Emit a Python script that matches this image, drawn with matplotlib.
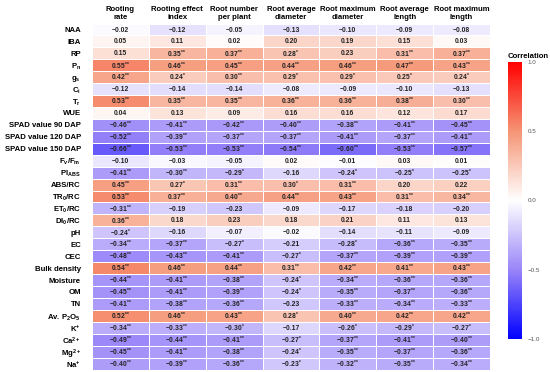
import numpy as np
import matplotlib
matplotlib.use("Agg")
import matplotlib.pyplot as plt
from matplotlib.colors import LinearSegmentedColormap

plt.rcParams['font.family'] = ['Liberation Sans', 'DejaVu Sans']
plt.rcParams['font.weight'] = 'bold'
plt.rcParams['mathtext.fontset'] = 'custom'
plt.rcParams['mathtext.rm'] = 'Liberation Sans:bold'
plt.rcParams['mathtext.it'] = 'Liberation Sans:bold'
plt.rcParams['mathtext.bf'] = 'Liberation Sans:bold'

columns = ["Rooting\nrate", "Rooting effect\nindex", "Root number\nper plant",
           "Root average\ndiameter", "Root maximum\ndiameter", "Root average\nlength",
           "Root maximum\nlength"]

rows = ["NAA", "IBA", "RP", "P$_n$", "g$_s$", "C$_i$", "T$_r$", "WUE",
        "SPAD value 90 DAP", "SPAD value 120 DAP", "SPAD value 150 DAP",
        "F$_v$/F$_m$", "PI$_{ABS}$", "ABS/RC", "TR$_0$/RC", "ET$_0$/RC", "DI$_0$/RC",
        "pH", "EC", "CEC", "Bulk density", "Moisture", "OM", "TN", "Av. P$_2$O$_5$",
        "K$^{+}$", "Ca$^{2+}$", "Mg$^{2+}$", "Na$^{+}$"]

values = [
    [-0.02, -0.12, -0.05, -0.13, -0.10, -0.09, -0.08],
    [0.05, 0.11, 0.02, 0.20, 0.19, 0.15, 0.03],
    [0.15, 0.35, 0.37, 0.28, 0.23, 0.31, 0.37],
    [0.55, 0.46, 0.45, 0.44, 0.46, 0.47, 0.43],
    [0.42, 0.24, 0.30, 0.29, 0.29, 0.25, 0.24],
    [-0.12, -0.14, -0.14, -0.08, -0.09, -0.10, -0.13],
    [0.53, 0.35, 0.35, 0.36, 0.36, 0.38, 0.30],
    [0.04, 0.13, 0.09, 0.16, 0.16, 0.12, 0.17],
    [-0.46, -0.41, -0.42, -0.40, -0.38, -0.41, -0.45],
    [-0.52, -0.39, -0.37, -0.37, -0.41, -0.37, -0.41],
    [-0.66, -0.53, -0.53, -0.54, -0.60, -0.53, -0.57],
    [-0.10, -0.03, -0.05, 0.02, -0.01, 0.03, 0.01],
    [-0.41, -0.30, -0.29, -0.16, -0.24, -0.25, -0.25],
    [0.45, 0.27, 0.31, 0.30, 0.31, 0.20, 0.22],
    [0.53, 0.37, 0.40, 0.44, 0.43, 0.31, 0.34],
    [-0.31, -0.19, -0.23, -0.09, -0.17, -0.18, -0.20],
    [0.36, 0.18, 0.23, 0.18, 0.21, 0.11, 0.13],
    [-0.24, -0.16, -0.07, -0.02, -0.14, -0.11, -0.09],
    [-0.34, -0.37, -0.27, -0.21, -0.28, -0.36, -0.35],
    [-0.48, -0.43, -0.41, -0.27, -0.37, -0.39, -0.39],
    [0.54, 0.46, 0.44, 0.31, 0.42, 0.41, 0.43],
    [-0.44, -0.41, -0.38, -0.24, -0.34, -0.36, -0.36],
    [-0.45, -0.41, -0.39, -0.24, -0.35, -0.37, -0.36],
    [-0.41, -0.38, -0.36, -0.23, -0.33, -0.34, -0.33],
    [0.52, 0.46, 0.43, 0.28, 0.40, 0.42, 0.42],
    [-0.34, -0.33, -0.30, -0.17, -0.26, -0.29, -0.27],
    [-0.49, -0.44, -0.41, -0.27, -0.37, -0.41, -0.40],
    [-0.45, -0.41, -0.38, -0.24, -0.35, -0.37, -0.36],
    [-0.40, -0.39, -0.36, -0.23, -0.32, -0.35, -0.34],
]

stars = [
    ["", "", "", "", "", "", ""],
    ["", "", "", "", "", "", ""],
    ["", "**", "**", "*", "", "**", "**"],
    ["**", "**", "**", "**", "**", "**", "**"],
    ["**", "*", "**", "*", "*", "*", "*"],
    ["", "", "", "", "", "", ""],
    ["**", "**", "**", "**", "**", "**", "**"],
    ["", "", "", "", "", "", ""],
    ["**", "**", "**", "**", "**", "**", "**"],
    ["**", "**", "**", "**", "**", "**", "**"],
    ["**", "**", "**", "**", "**", "**", "**"],
    ["", "", "", "", "", "", ""],
    ["**", "**", "*", "", "*", "*", "*"],
    ["**", "*", "**", "*", "**", "", ""],
    ["**", "**", "**", "**", "**", "**", "**"],
    ["**", "", "", "", "", "", ""],
    ["**", "", "", "", "", "", ""],
    ["*", "", "", "", "", "", ""],
    ["**", "**", "*", "", "*", "**", "**"],
    ["**", "**", "**", "*", "**", "**", "**"],
    ["**", "**", "**", "**", "**", "**", "**"],
    ["**", "**", "**", "*", "**", "**", "**"],
    ["**", "**", "**", "*", "**", "**", "**"],
    ["**", "**", "**", "", "**", "**", "**"],
    ["**", "**", "**", "*", "**", "**", "**"],
    ["**", "**", "*", "", "*", "*", "*"],
    ["**", "**", "**", "*", "**", "**", "**"],
    ["**", "**", "**", "*", "**", "**", "**"],
    ["**", "**", "**", "*", "**", "**", "**"],
]

data = np.array(values)

cmap = LinearSegmentedColormap.from_list(
    "corr", [(0.0, "#0000FF"), (0.25, "#9A86F8"), (0.5, "#FFFFFF"),
             (0.75, "#F59575"), (1.0, "#FF0000")])

fig = plt.figure(figsize=(5.5, 3.72), dpi=100)
ax = fig.add_axes([92 / 550, 1 - 369.5 / 372, 398 / 550, 346 / 372])

nr, nc = data.shape
mesh = ax.pcolormesh(np.arange(nc + 1), np.arange(nr + 1), data, cmap=cmap,
                     vmin=-1, vmax=1, edgecolors="white", linewidth=0.6)
ax.set_xlim(0, nc)
ax.set_ylim(nr, 0)
for s in ax.spines.values():
    s.set_visible(False)
ax.tick_params(length=0, pad=8)
ax.set_yticks(np.arange(nr) + 0.5)
ax.set_yticklabels(rows, fontsize=5.6, fontweight="bold")
ax.xaxis.tick_top()
ax.set_xticks(np.arange(nc) + 0.5)
ax.set_xticklabels(columns, fontsize=5.6, fontweight="bold", linespacing=1.05)
ax.tick_params(axis="x", pad=2)

for i in range(nr):
    for j in range(nc):
        v = data[i, j]
        txt = f"{v:.2f}".replace("-", "\u2212")
        if stars[i][j]:
            txt += "$^{" + stars[i][j] + "}$"
        ax.text(j + 0.5, i + 0.55, txt, ha="center", va="center",
                fontsize=4.9, fontweight="bold", color="#222222")

cax = fig.add_axes([508 / 550, 1 - 339 / 372, 14 / 550, 277 / 372])
cb = fig.colorbar(mesh, cax=cax, ticks=[-1, -0.5, 0, 0.5, 1])
cb.outline.set_visible(False)
cb.set_ticklabels(["\u22121.0", "\u22120.5", "0.0", "0.5", "1.0"])
cax.tick_params(labelsize=4.5, length=2, color="white", labelcolor="#555555", pad=2)
for t in cax.get_yticklabels():
    t.set_fontweight("normal")
fig.text(508 / 550, 1 - 56 / 372, "Correlation", fontsize=5.6,
         fontweight="bold", va="center", ha="left")

fig.savefig("out.png", dpi=100)
